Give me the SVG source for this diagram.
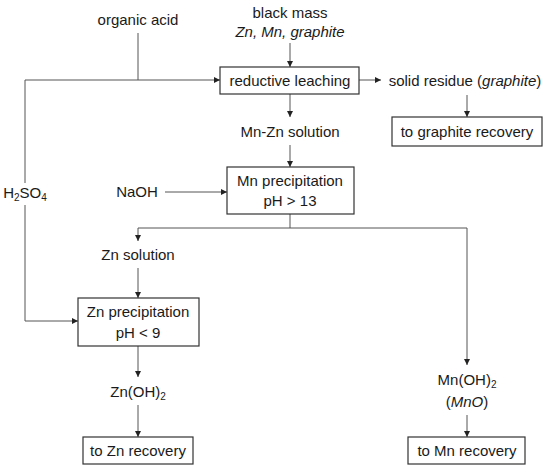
<svg xmlns="http://www.w3.org/2000/svg" width="550" height="470" viewBox="0 0 550 470">
<style>
text{font-family:"Liberation Sans",Arial,sans-serif;font-size:15px;fill:#1a1a1a;text-anchor:middle}
.box{fill:#fff;stroke:#333;stroke-width:1.2}
.ln{fill:none;stroke:#555;stroke-width:1}
.ar{marker-end:url(#ah)}
.sub{font-size:10px}
</style>
<defs>
<marker id="ah" viewBox="0 0 8 8" refX="8" refY="4" markerWidth="6" markerHeight="6" markerUnits="userSpaceOnUse" orient="auto">
<path d="M0,0 L8,4 L0,8 z" fill="#222"/>
</marker>
</defs>
<rect width="550" height="470" fill="#fff"/>
<g id="connectors">
<path class="ln" d="M138,33 V80"/>
<path class="ln ar" d="M25,183 V80 H220"/>
<path class="ln ar" d="M25,205 V321 H78"/>
<path class="ln ar" d="M290,43 V67"/>
<path class="ln ar" d="M359,80 H381"/>
<path class="ln ar" d="M467,95 V117"/>
<path class="ln ar" d="M290,94 V117"/>
<path class="ln ar" d="M290,145 V167"/>
<path class="ln ar" d="M165,192 H227"/>
<path class="ln" d="M290,214 V228"/>
<path class="ln ar" d="M138,228 H467 V365"/>
<path class="ln ar" d="M138,228 V241"/>
<path class="ln ar" d="M138,268 V298"/>
<path class="ln ar" d="M138,346 V377"/>
<path class="ln ar" d="M138,405 V437"/>
<path class="ln ar" d="M467,415 V437"/>
</g>
<g id="organic-acid"><text x="138" y="25">organic acid</text></g>
<g id="black-mass"><text x="290" y="18">black mass</text><text x="290" y="37" font-style="italic">Zn, Mn, graphite</text></g>
<g id="reductive-leaching"><rect class="box" x="220" y="67" width="139" height="27"/><text x="290" y="86">reductive leaching</text></g>
<g id="solid-residue"><text x="465" y="86">solid residue (<tspan font-style="italic">graphite</tspan>)</text></g>
<g id="graphite-recovery"><rect class="box" x="392" y="117" width="150" height="29"/><text x="467" y="137">to graphite recovery</text></g>
<g id="mn-zn-solution"><text x="290" y="137">Mn-Zn solution</text></g>
<g id="h2so4"><text x="25" y="198">H<tspan class="sub" dy="3">2</tspan><tspan dy="-3">SO</tspan><tspan class="sub" dy="3">4</tspan></text></g>
<g id="naoh"><text x="137" y="197">NaOH</text></g>
<g id="mn-precipitation"><rect class="box" x="227" y="167" width="127" height="47"/><text x="290" y="186">Mn precipitation</text><text x="290" y="206">pH &gt; 13</text></g>
<g id="zn-solution"><text x="138" y="260">Zn solution</text></g>
<g id="zn-precipitation"><rect class="box" x="78" y="298" width="121" height="48"/><text x="138" y="317">Zn precipitation</text><text x="138" y="338">pH &lt; 9</text></g>
<g id="zn-oh2"><text x="138" y="397">Zn(OH)<tspan class="sub" dy="3">2</tspan></text></g>
<g id="mn-oh2"><text x="467" y="385">Mn(OH)<tspan class="sub" dy="3">2</tspan></text><text x="467" y="407">(<tspan font-style="italic">MnO</tspan>)</text></g>
<g id="zn-recovery"><rect class="box" x="83" y="437" width="110" height="27"/><text x="138" y="456">to Zn recovery</text></g>
<g id="mn-recovery"><rect class="box" x="408" y="437" width="117" height="27"/><text x="467" y="456">to Mn recovery</text></g>
</svg>
